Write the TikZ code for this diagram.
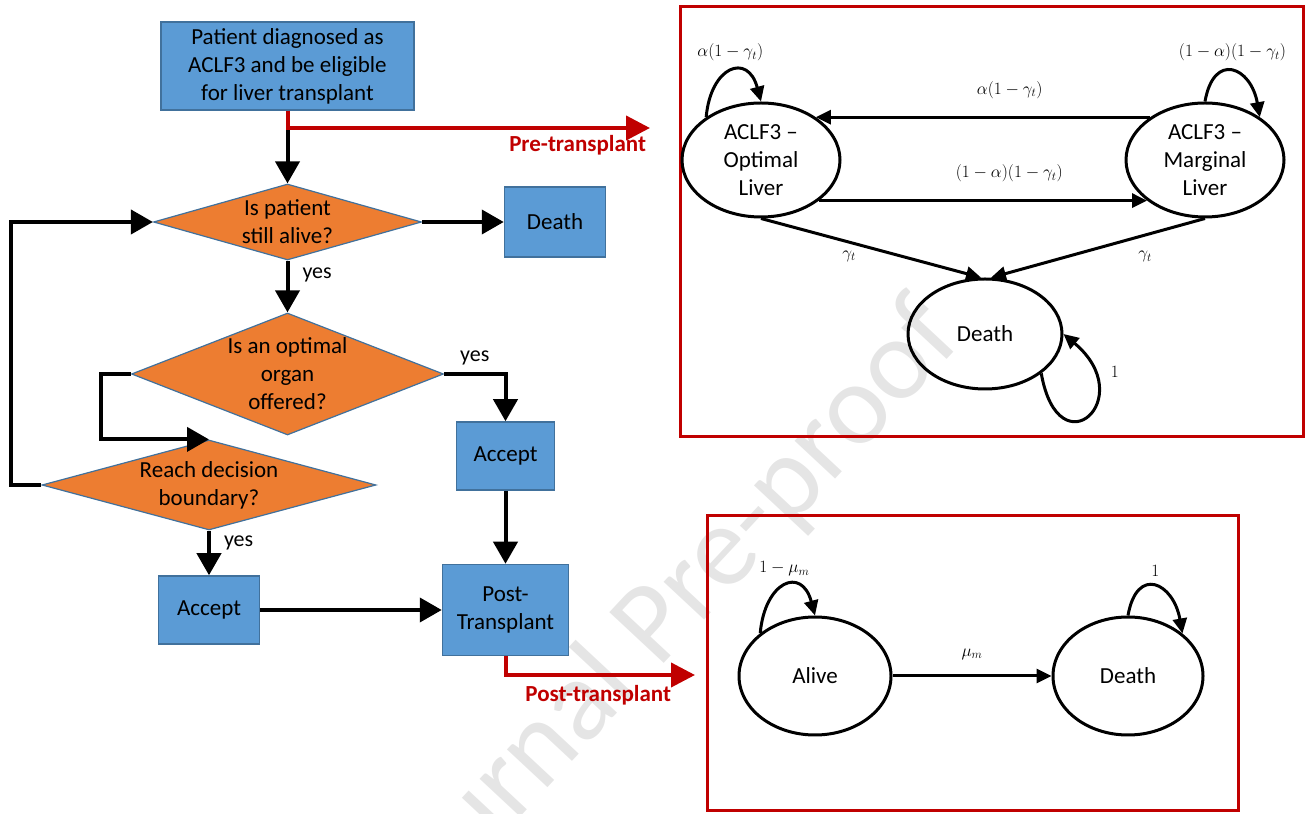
\documentclass[tikz,border=0pt]{standalone}
\usepackage[no-math]{fontspec}
\setmainfont{Carlito}
\usepackage{tikz}
\usetikzlibrary{shapes.geometric,arrows.meta}
\definecolor{boxblue}{RGB}{91,155,213}
\definecolor{boxedge}{RGB}{65,113,156}
\definecolor{decorange}{RGB}{237,125,49}
\definecolor{darkred}{RGB}{192,0,0}

\begin{document}
\begin{tikzpicture}[x=1pt, y=1pt,
  font=\fontsize{23}{28}\selectfont,
  process/.style={rectangle, draw=boxedge, line width=1.5pt, fill=boxblue, align=center, inner sep=2pt},
  decision/.style={diamond, draw=boxedge, line width=1.2pt, fill=decorange, inner sep=0pt},
  flow/.style={line width=4pt, -{Triangle[length=22pt,width=24pt]}},
  phase/.style={draw=darkred, line width=4pt, -{Triangle[length=24pt,width=24pt]}},
  redframe/.style={draw=darkred, line width=3pt},
  markov/.style={ellipse, draw, line width=3pt, align=center, inner sep=0pt},
  trans/.style={line width=3pt, -{Triangle[length=15pt,width=14pt]}},
  prob/.style={font=\fontsize{18}{20}\selectfont, inner sep=1pt},
  answer/.style={font=\fontsize{22}{26}\selectfont, inner sep=1pt},
  tag/.style={text=darkred, font=\fontsize{23}{28}\selectfont\bfseries, inner sep=1pt}]
  \useasboundingbox (0,0) rectangle (1307,814);

  \begin{scope}
    \clip (0,0) rectangle (1307,814);
    \node[rotate=47, text=black!10, font=\fontsize{116}{116}\selectfont] (mark) at (663,195) {Journal Pre-proof};
  \end{scope}

  % flowchart
  \node[process, minimum width=253pt, minimum height=88pt] (diag) at (287.5,748) {Patient diagnosed as\\ACLF3 and be eligible\\for liver transplant};
  \node[decision, minimum width=268pt, minimum height=76pt,
    label={[align=center]center:Is patient\\still alive?}] (alive) at (287.5,592) {};
  \node[process, minimum width=101pt, minimum height=70pt] (lost) at (555,592) {Death};
  \node[decision, minimum width=312pt, minimum height=122pt,
    label={[align=center]center:Is an optimal\\organ\\offered?}] (offer) at (287.5,440) {};
  \node[process, minimum width=98pt, minimum height=68pt] (accept1) at (505.5,358) {Accept};
  \node[decision, minimum width=334pt, minimum height=90pt,
    label={[align=center]center:Reach decision\\boundary?}] (boundary) at (209,329) {};
  \node[process, minimum width=101pt, minimum height=68pt] (accept2) at (209,204) {Accept};
  \node[process, minimum width=126pt, minimum height=91pt] (post) at (505.5,204) {Post-\\Transplant};

  \draw[flow] (diag) -- (alive);
  \draw[flow] (alive) -- (lost);
  \draw[flow] (alive) -- node[pos=0.28, right=12pt, answer] {yes} (offer);
  \draw[flow] (offer.east) -| node[pos=0.25, above=6pt, answer] {yes} (accept1);
  \draw[flow] (offer.west) -- ++(-30,0) |- (boundary.north);
  \draw[flow] (boundary.west) -- ++(-30,0) |- (alive.west);
  \draw[flow] (boundary) -- node[pos=0.28, right=12pt, answer] {yes} (accept2);
  \draw[flow] (accept1) -- (post);
  \draw[flow] (accept2) -- (post);

  \coordinate (preend) at (650,686);
  \coordinate (postend) at (695,139);
  \draw[phase] (diag.south) |- (preend) node[anchor=east, xshift=-1pt, yshift=-17pt, tag] {Pre-transplant};
  \draw[phase] (post.south) |- (postend) node[anchor=east, xshift=-21pt, yshift=-20pt, tag] {Post-transplant};

  % pre-transplant chain
  \draw[redframe] (680,807) rectangle (1303,377);
  \node[markov, minimum width=158pt, minimum height=114pt] (optimal) at (761,654) {ACLF3 --\\Optimal\\Liver};
  \node[markov, minimum width=158pt, minimum height=114pt] (marginal) at (1205,654) {ACLF3 --\\Marginal\\Liver};
  \node[markov, minimum width=154pt, minimum height=110pt] (dead) at (985,480) {Death};

  \draw[trans] (marginal.142) -- node[pos=0.42, above=16pt, prob] {$\alpha(1-\gamma_t)$} (optimal.38);
  \draw[trans] (optimal.-35) -- node[pos=0.58, above=16pt, prob] {$(1-\alpha)(1-\gamma_t)$} (marginal.-145);
  \draw[trans] (optimal.south) -- node[pos=0.4, below=6pt, prob] {$\gamma_t$} (dead.94);
  \draw[trans] (marginal.south) -- node[pos=0.28, below=14pt, prob] {$\gamma_t$} (dead.84);
  \draw[trans] (optimal.142) to[out=85, in=105, looseness=2.3] node[above=8pt, prob] {$\alpha(1-\gamma_t)$} (optimal.north);
  \draw[trans] (marginal.north) to[out=80, in=100, looseness=2.3] node[above=8pt, prob] {$(1-\alpha)(1-\gamma_t)$} (marginal.38);
  \draw[trans] (dead.-35) .. controls +(-80:100pt) and +(-40:100pt) .. node[pos=0.8, right=16pt, prob] {$1$} (dead.east);

  % post-transplant chain
  \draw[redframe] (707,298) rectangle (1238,3);
  \node[markov, minimum width=152pt, minimum height=118pt] (living) at (815,138) {Alive};
  \node[markov, minimum width=150pt, minimum height=118pt] (deadpost) at (1128,138) {Death};

  \draw[trans] (living) -- node[above=14pt, prob] {$\mu_m$} (deadpost);
  \draw[trans] (living.142) to[out=85, in=105, looseness=2.3] node[above=8pt, prob] {$1-\mu_m$} (living.north);
  \draw[trans] (deadpost.north) to[out=80, in=100, looseness=2.3] node[above=8pt, prob] {$1$} (deadpost.38);
\end{tikzpicture}
\end{document}
